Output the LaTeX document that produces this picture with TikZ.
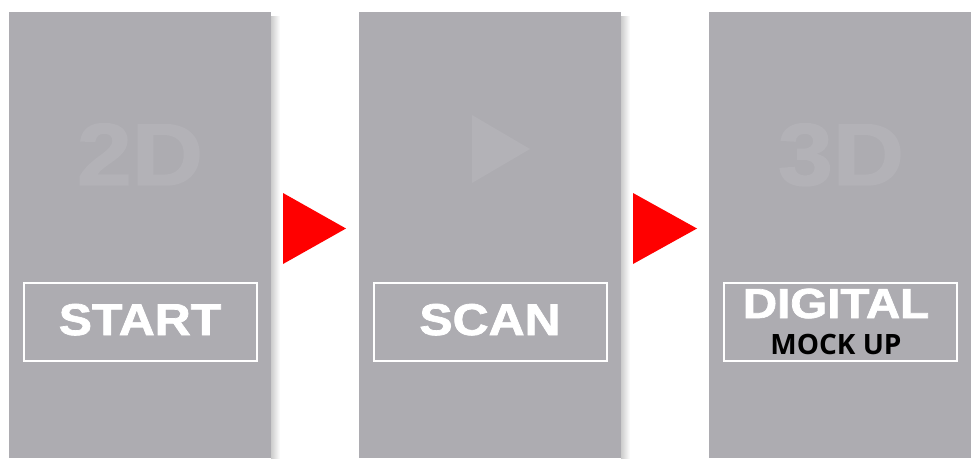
\documentclass[tikz,border=0pt]{standalone}
\usepackage{fontspec}
\setmainfont{Liberation Sans}
\newfontfamily\heavy[FakeBold=1.6]{Liberation Sans Bold}
\newfontfamily\opensans{Open Sans}
\definecolor{panelgray}{RGB}{173,172,177}
\definecolor{faintgray}{RGB}{179,178,183}
\definecolor{arrowred}{RGB}{255,0,0}
\begin{document}
\begin{tikzpicture}[x=1pt,y=-1pt,
  panel/.style={fill=panelgray},
  shadow/.style={left color=black!20,right color=white},
  labelbox/.style={draw=white,line width=1.6pt,minimum width=233pt,minimum height=78pt,inner sep=0pt},
  bigtxt/.style={text=white,font=\heavy\fontsize{44.5}{44.5}\selectfont,anchor=base,inner sep=0pt},
  fainttxt/.style={text=faintgray,font=\heavy\fontsize{88}{88}\selectfont,anchor=base,inner sep=0pt},
  redtri/.style={fill=arrowred}
]
\useasboundingbox (0,0) rectangle (971,461);
\fill[white] (0,0) rectangle (971,461);
% shadows
\shade[shadow] (271,16) rectangle (280,458);
\shade[shadow] (621,16) rectangle (630,458);
% panels
\fill[panel] (9,12) rectangle (271,458);
\fill[panel] (359,12) rectangle (621,458);
\fill[panel] (709,12) rectangle (971,458);
% faint symbols
\node[fainttxt] (twod) at (140,185) {\scalebox{1.12}[1]{2D}};
\fill[faintgray] (472,115) -- (472,183) -- (530,149) -- cycle;
\node[fainttxt] (threed) at (841,185) {\scalebox{1.12}[1]{3D}};
% label boxes
\node[labelbox] (startbox) at (140.5,322) {};
\node[labelbox] (scanbox) at (490.5,322) {};
\node[labelbox] (dmubox) at (840.5,322) {};
\node[bigtxt] (start) at (140,335) {\scalebox{1.12}[1]{START}};
\node[bigtxt] (scan) at (490,335) {\scalebox{1.12}[1]{SCAN}};
\node[bigtxt,font=\heavy\fontsize{42}{42}\selectfont] (digital) at (836,318) {\scalebox{1.13}[1]{DIGITAL}};
\node[anchor=base,inner sep=0pt,text=black,font=\opensans\bfseries\fontsize{28}{28}\selectfont] (mockup) at (836,354) {MOCK UP};
% red arrows
\fill[redtri] (283,193) -- (283,264) -- (346,228.5) -- cycle;
\fill[redtri] (633,193) -- (633,264) -- (697,228.5) -- cycle;
\end{tikzpicture}
\end{document}
